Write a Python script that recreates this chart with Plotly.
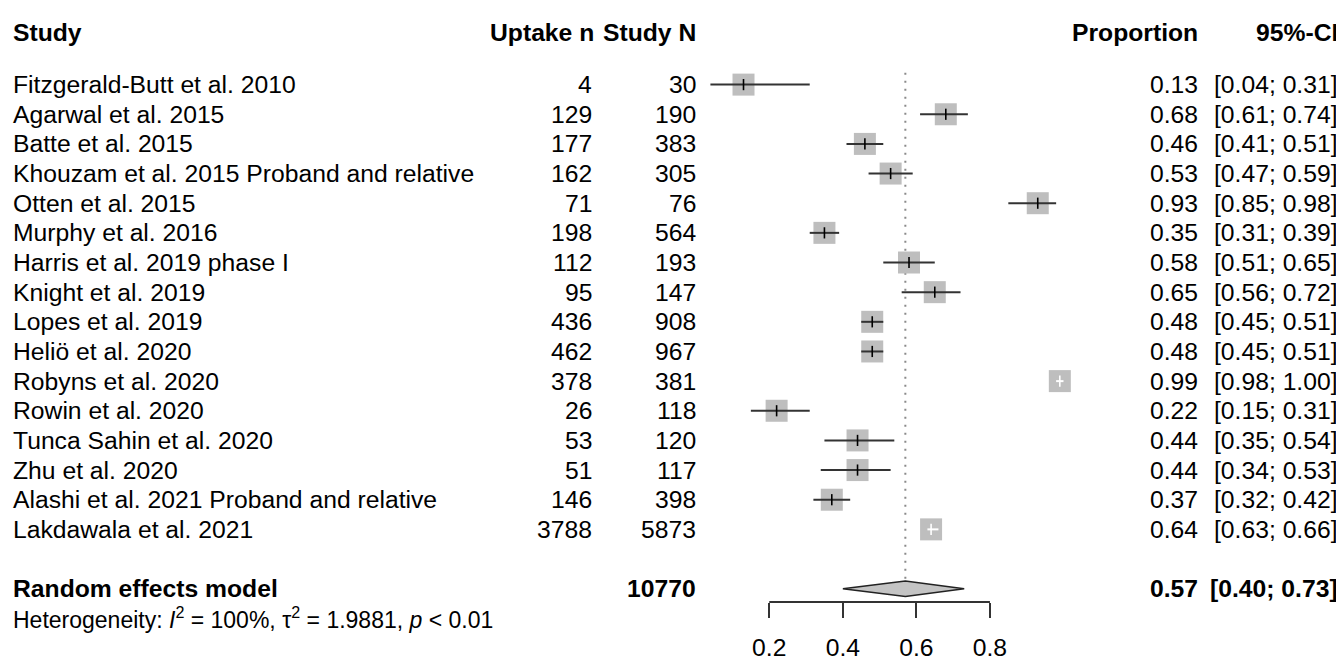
import plotly.graph_objects as go

studies = [
    "Fitzgerald-Butt et al. 2010", "Agarwal et al. 2015", "Batte et al. 2015",
    "Khouzam et al. 2015 Proband and relative", "Otten et al. 2015", "Murphy et al. 2016",
    "Harris et al. 2019 phase I", "Knight et al. 2019", "Lopes et al. 2019",
    "Heliö et al. 2020", "Robyns et al. 2020", "Rowin et al. 2020",
    "Tunca Sahin et al. 2020", "Zhu et al. 2020", "Alashi et al. 2021 Proband and relative",
    "Lakdawala et al. 2021",
]
uptake_n = [4, 129, 177, 162, 71, 198, 112, 95, 436, 462, 378, 26, 53, 51, 146, 3788]
study_n = [30, 190, 383, 305, 76, 564, 193, 147, 908, 967, 381, 118, 120, 117, 398, 5873]
proportion = [0.13, 0.68, 0.46, 0.53, 0.93, 0.35, 0.58, 0.65, 0.48, 0.48, 0.99, 0.22, 0.44, 0.44, 0.37, 0.64]
ci_lower = [0.04, 0.61, 0.41, 0.47, 0.85, 0.31, 0.51, 0.56, 0.45, 0.45, 0.98, 0.15, 0.35, 0.34, 0.32, 0.63]
ci_upper = [0.31, 0.74, 0.51, 0.59, 0.98, 0.39, 0.65, 0.72, 0.51, 0.51, 1.00, 0.31, 0.54, 0.53, 0.42, 0.66]

pooled_label = "Random effects model"
pooled_total = 10770
pooled_est = 0.57
pooled_lower = 0.40
pooled_upper = 0.73
het_text = "Heterogeneity: <i>I</i><sup>2</sup> = 100%, τ<sup>2</sup> = 1.9881, <i>p</i> &lt; 0.01"

headers = ["Study", "Uptake n", "Study N", "Proportion", "95%-CI"]
axis_ticks = [0.2, 0.4, 0.6, 0.8]

# ---------------- layout constants (page pixels; page body has 8px margin) ----------------
OFF = 8
W, H = 1344 - OFF, 661 - OFF
AXIS_Y_PX = 605 - OFF
BOTTOM = H - AXIS_Y_PX
PLOT_H = AXIS_Y_PX
X0_PX = 695.7 - OFF        # pixel of proportion 0
PX_PER_UNIT = 367.8
ROW0_PX = 85.0 - OFF
ROW_STEP = 29.8
SQ = 22
FONT = "Liberation Sans, Arial, sans-serif"
FS = 24.7

x_range = [(0 - X0_PX) / PX_PER_UNIT, (W - X0_PX) / PX_PER_UNIT]
y_range = [(PLOT_H - ROW0_PX) / ROW_STEP, (0 - ROW0_PX) / ROW_STEP]

n = len(studies)
rows = list(range(n))
pooled_row = n + 1
het_row = n + 2
header_row = (33 - OFF - ROW0_PX) / ROW_STEP

fig = go.Figure()

# reference (dotted) line at pooled estimate
dia_half = 0.26
fig.add_trace(go.Scatter(
    x=[pooled_est, pooled_est], y=[-0.4, pooled_row - dia_half], mode="lines",
    line=dict(color="#8a8a8a", width=2, dash="2px,6px"), hoverinfo="skip", showlegend=False))

# squares
fig.add_trace(go.Scatter(
    x=proportion, y=rows, mode="markers",
    marker=dict(symbol="square", size=SQ, color="#bebebe", line=dict(width=0)),
    hoverinfo="skip", showlegend=False))

# CI lines (white if inside square)
dark_x, dark_y, white_x, white_y = [], [], [], []
dark_px, dark_py, white_px, white_py = [], [], [], []
for i in range(n):
    inside = (ci_upper[i] - ci_lower[i]) * PX_PER_UNIT < SQ - 2
    if inside:
        white_x += [ci_lower[i], ci_upper[i], None]
        white_y += [i, i, None]
        white_px.append(proportion[i]); white_py.append(i)
    else:
        dark_x += [ci_lower[i], ci_upper[i], None]
        dark_y += [i, i, None]
        dark_px.append(proportion[i]); dark_py.append(i)

fig.add_trace(go.Scatter(x=dark_x, y=dark_y, mode="lines",
                         line=dict(color="#333333", width=2), hoverinfo="skip", showlegend=False))
fig.add_trace(go.Scatter(x=white_x, y=white_y, mode="lines",
                         line=dict(color="white", width=2), hoverinfo="skip", showlegend=False))
fig.add_trace(go.Scatter(x=dark_px, y=dark_py, mode="markers",
                         marker=dict(symbol="line-ns", size=8, line=dict(color="black", width=1.6)),
                         hoverinfo="skip", showlegend=False))
fig.add_trace(go.Scatter(x=white_px, y=white_py, mode="markers",
                         marker=dict(symbol="line-ns", size=8, line=dict(color="white", width=1.6)),
                         hoverinfo="skip", showlegend=False))

# diamond
fig.add_trace(go.Scatter(
    x=[pooled_lower, pooled_est, pooled_upper, pooled_est, pooled_lower],
    y=[pooled_row, pooled_row - dia_half, pooled_row, pooled_row + dia_half, pooled_row],
    mode="lines", fill="toself", fillcolor="#c4c4c4",
    line=dict(color="#222222", width=1.5), hoverinfo="skip", showlegend=False))

# axis line
fig.add_shape(type="line", xref="x", yref="paper", x0=axis_ticks[0], x1=axis_ticks[-1], y0=0, y1=0,
              line=dict(color="#333333", width=2))

# ---------------- text columns ----------------
COL_STUDY = 12 - OFF
COL_UPTAKE = 593 - OFF
COL_N = 697 - OFF
COL_PROP = 1199 - OFF
COL_CI = 1339 - OFF


def row_to_paper(row):
    px = ROW0_PX + row * ROW_STEP
    return (PLOT_H - px) / PLOT_H


def ann(text, px, row, anchor, bold=False, size=FS):
    fig.add_annotation(
        x=px / W, xref="paper", y=row_to_paper(row), yref="paper",
        text=f"<b>{text}</b>" if bold else text,
        xanchor=anchor, yanchor="middle", showarrow=False,
        font=dict(family=FONT, size=size, color="black"), borderpad=0)


ann(headers[0], COL_STUDY, header_row, "left", bold=True)
ann(headers[1], COL_UPTAKE + 2, header_row, "right", bold=True)
ann(headers[2], COL_N, header_row, "right", bold=True)
ann(headers[3], COL_PROP, header_row, "right", bold=True)
ann(headers[4], COL_CI, header_row, "right", bold=True)

for i in range(n):
    ann(studies[i], COL_STUDY, i, "left")
    ann(str(uptake_n[i]), COL_UPTAKE, i, "right")
    ann(str(study_n[i]), COL_N, i, "right")
    ann(f"{proportion[i]:.2f}", COL_PROP, i, "right")
    ann(f"[{ci_lower[i]:.2f}; {ci_upper[i]:.2f}]", COL_CI, i, "right")

ann(pooled_label, COL_STUDY, pooled_row, "left", bold=True)
ann(str(pooled_total), COL_N, pooled_row, "right", bold=True)
ann(f"{pooled_est:.2f}", COL_PROP, pooled_row, "right", bold=True)
ann(f"[{pooled_lower:.2f}; {pooled_upper:.2f}]", COL_CI, pooled_row, "right", bold=True)
ann(het_text, COL_STUDY, het_row, "left", size=23)

fig.update_layout(
    width=W, height=H,
    margin=dict(l=0, r=0, t=0, b=BOTTOM),
    paper_bgcolor="white", plot_bgcolor="white",
    xaxis=dict(range=x_range, tickvals=axis_ticks, ticktext=[f"{t:.1f}" for t in axis_ticks],
               ticks="outside", ticklen=15, tickwidth=2, tickcolor="#333333",
               showline=False, showgrid=False, zeroline=False,
               tickfont=dict(family=FONT, size=FS, color="black"), ticklabelstandoff=8,
               fixedrange=True),
    yaxis=dict(range=y_range, visible=False, fixedrange=True),
    showlegend=False,
)

fig.write_html("out.html")
